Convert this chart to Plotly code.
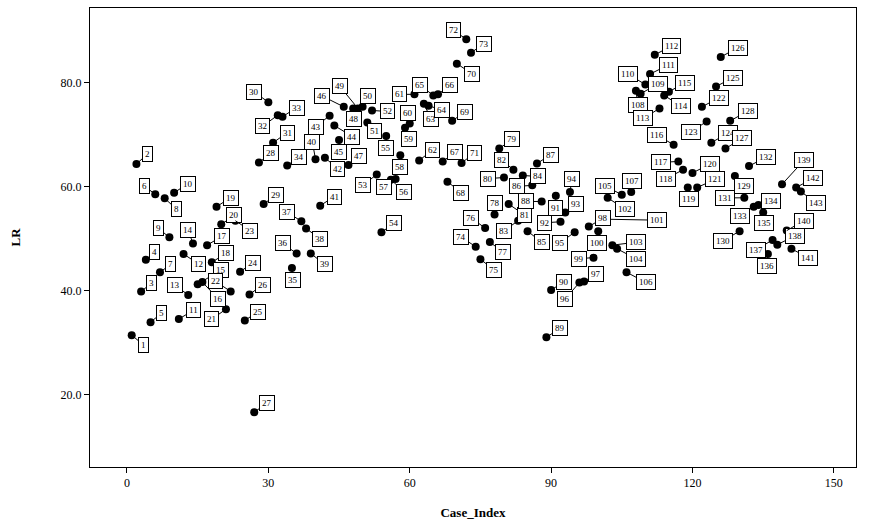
import plotly.graph_objects as go

case_index = list(range(1, 144))
lr = [31.5, 64.4, 39.9, 46.0, 34.0, 58.6, 43.6, 57.8, 50.3, 58.9,
      34.6, 47.1, 39.2, 49.1, 41.3, 41.7, 48.8, 45.5, 56.2, 52.8,
      36.5, 39.9, 53.5, 43.7, 34.3, 39.3, 16.7, 64.7, 56.7, 76.3,
      68.5, 73.8, 73.5, 64.1, 44.4, 47.2, 53.4, 52.0, 47.2, 65.3,
      56.4, 65.6, 73.7, 71.8, 69.0, 75.4, 64.2, 75.1, 75.1, 75.4,
      72.4, 74.7, 62.4, 51.3, 69.8, 61.4, 61.5, 66.1, 71.4, 72.2,
      77.8, 65.1, 76.0, 75.6, 77.6, 77.8, 64.9, 61.0, 72.7, 83.7,
      64.6, 88.4, 85.8, 48.5, 46.1, 52.1, 49.4, 54.7, 67.4, 61.8,
      56.7, 63.3, 53.5, 62.2, 51.5, 60.3, 64.5, 57.2, 31.1, 40.2,
      58.3, 53.3, 55.1, 59.0, 51.3, 41.6, 41.8, 52.4, 46.4, 51.5,
      53.8, 57.9, 48.8, 48.1, 58.5, 43.6, 59.0, 78.5, 77.9, 79.7,
      81.7, 85.4, 75.1, 77.6, 78.3, 68.1, 64.9, 63.3, 59.9, 62.7,
      59.9, 75.4, 72.6, 68.5, 79.3, 85.0, 67.4, 72.7, 62.1, 51.5,
      57.9, 64.0, 56.2, 56.5, 55.1, 47.1, 49.8, 48.9, 60.5, 51.6,
      48.1, 59.9, 59.1]
x_ticks = [0, 30, 60, 90, 120, 150]
y_ticks = [20, 40, 60, 80]
y_tick_text = ["20.0", "40.0", "60.0", "80.0"]

# label box offsets in pixels (layout only)
label_offsets = {
    1: (12, 10), 2: (11, -10), 3: (10, -8), 4: (9, -8), 5: (11, -9),
    6: (-11, -8), 7: (11, -8), 8: (12, 11), 9: (-11, -9), 10: (14, -9),
    11: (15, -9), 12: (15, 10), 13: (-13, -10), 14: (-5, -14), 15: (23, -14),
    16: (16, 17), 17: (15, -9), 18: (14, -9), 19: (14, -9), 20: (13, -9),
    21: (-14, 10), 22: (-15, -10), 23: (15, 10), 24: (13, -9), 25: (13, -9),
    26: (13, -10), 27: (13, -9), 28: (12, -9), 29: (12, -9), 30: (-14, -10),
    31: (14, -10), 32: (-15, 11), 33: (14, -9), 34: (12, -9), 35: (1, 12),
    36: (-14, -10), 37: (-14, -9), 38: (14, 10), 39: (14, 11), 40: (-3, -17),
    41: (14, -9), 42: (13, 11), 43: (-14, 11), 44: (18, 11), 45: (0, 12),
    46: (-22, -11), 47: (11, -9), 48: (1, 11), 49: (-18, -22), 50: (5, -11),
    51: (7, 9), 52: (15, 1), 53: (-14, 11), 54: (13, -9), 55: (0, 12),
    56: (13, 12), 57: (-12, 8), 58: (0, 12), 59: (4, 11), 60: (-2, -10),
    61: (-15, 0), 62: (13, -10), 63: (7, 15), 64: (13, 4), 65: (-13, -10),
    66: (12, -9), 67: (12, -9), 68: (14, 11), 69: (13, -9), 70: (15, 10),
    71: (13, -10), 72: (-13, -9), 73: (13, -9), 74: (-15, -10), 75: (14, 11),
    76: (-14, -10), 77: (13, 10), 78: (0, -11), 79: (13, -9), 80: (-16, 1),
    81: (16, 11), 82: (-12, -10), 83: (-14, 10), 84: (15, 1), 85: (14, 11),
    86: (-15, 1), 87: (14, -9), 88: (-16, 0), 89: (14, -9), 90: (13, -8),
    91: (0, 12), 92: (-16, 1), 93: (11, -8), 94: (2, -13), 95: (-15, 11),
    96: (-14, 16), 97: (12, -8), 98: (14, -8), 99: (-15, 1), 100: (-1, 12),
    101: (54, 1), 102: (17, 11), 103: (24, -3), 104: (19, 10), 105: (-17, -9),
    106: (19, 10), 107: (1, -11), 108: (2, 14), 109: (17, -10), 110: (-17, -10),
    111: (18, -9), 112: (17, -9), 113: (-16, 10), 114: (17, 11), 115: (16, -9),
    116: (-17, -10), 117: (-17, 1), 118: (-17, 9), 119: (1, 12), 120: (18, -9),
    121: (18, -8), 122: (17, -9), 123: (-16, 11), 124: (17, -10), 125: (17, -9),
    126: (17, -9), 127: (17, -10), 128: (18, -10), 129: (9, 10), 130: (-17, 10),
    131: (-19, 0), 132: (17, -9), 133: (-14, 9), 134: (13, -4), 135: (1, 11),
    136: (-1, 12), 137: (-17, 10), 138: (18, -9), 139: (22, -24), 140: (17, -10),
    141: (17, 9), 142: (17, -9), 143: (15, 11),
}

serif = "Liberation Serif"

fig = go.Figure()
fig.add_trace(go.Scatter(
    x=case_index, y=lr, mode="markers",
    marker=dict(color="black", size=8),
    hoverinfo="skip", showlegend=False,
))

order = [i for i in case_index if i != 98] + [98]
annotations = []
for i in order:
    ax, ay = label_offsets[i]
    annotations.append(dict(
        x=i, y=lr[i - 1], xref="x", yref="y",
        text=str(i), showarrow=True, arrowhead=0, arrowwidth=1,
        arrowcolor="black", ax=ax, ay=ay, standoff=0,
        font=dict(family=serif, size=9, color="black"),
        bgcolor="white", bordercolor="black", borderwidth=1, borderpad=2,
    ))

fig.update_layout(
    width=870, height=521,
    margin=dict(l=90, r=14, t=8, b=54),
    paper_bgcolor="white", plot_bgcolor="white",
    font=dict(family=serif, color="black", size=12),
    annotations=annotations,
    hovermode=False,
    xaxis=dict(
        range=[-7.85, 154.7], tickvals=x_ticks, ticktext=[str(v) for v in x_ticks],
        ticks="outside", ticklen=5, tickcolor="black", showgrid=False, zeroline=False,
        showline=True, linecolor="black", linewidth=1, mirror=True, automargin=False,
        title=dict(text="<b>Case_Index</b>", font=dict(family=serif, size=13), standoff=18),
        tickfont=dict(family=serif, size=12),
    ),
    yaxis=dict(
        range=[6.15, 94.4], tickvals=y_ticks, ticktext=y_tick_text,
        ticks="outside", ticklen=5, tickcolor="black", showgrid=False, zeroline=False,
        showline=True, linecolor="black", linewidth=1, mirror=True, automargin=False,
        title=dict(text="<b>LR</b>", font=dict(family=serif, size=13), standoff=37),
        tickfont=dict(family=serif, size=12),
    ),
)

fig.write_html("out.html", config={"displayModeBar": False},
               post_script="document.body.style.margin='0';")
